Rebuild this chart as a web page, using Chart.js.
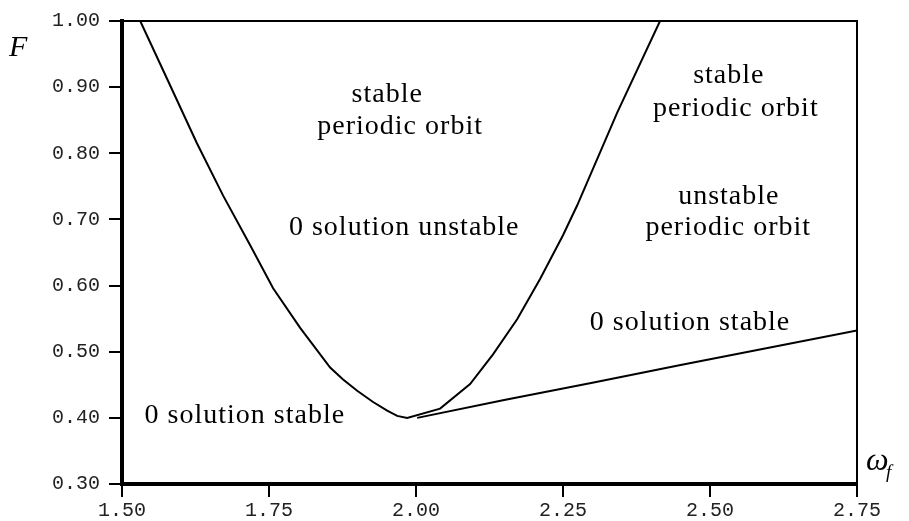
<!DOCTYPE html>
<html>
<head>
<meta charset="utf-8">
<script src="https://cdn.jsdelivr.net/npm/chart.js@4.4.0/dist/chart.umd.min.js"></script>
<style>
  body { margin: 0; background: white; }
  #wrap { width: 909px; height: 521px; }
</style>
</head>
<body>
<div id="wrap"><canvas id="chart" width="909" height="521"></canvas></div>
<script>
// stability boundary: left branch down to the minimum, then right branch back up
const curve_w = [1.531, 1.578, 1.627, 1.672, 1.718, 1.757, 1.803, 1.854, 1.876, 1.900, 1.927, 1.951, 1.968, 1.985,
  2.041, 2.092, 2.131, 2.172, 2.211, 2.250, 2.274, 2.342, 2.415];
const curve_f = [1.000, 0.910, 0.816, 0.736, 0.661, 0.596, 0.536, 0.476, 0.458, 0.441, 0.424, 0.411, 0.403, 0.400,
  0.414, 0.451, 0.496, 0.549, 0.610, 0.676, 0.721, 0.861, 1.000];

// lower boundary from the minimum out to the right edge
const line_w = [2.002, 2.150, 2.300, 2.450, 2.600, 2.750];
const line_f = [0.400, 0.427, 0.453, 0.480, 0.506, 0.532];

const x_ticks = [1.50, 1.75, 2.00, 2.25, 2.50, 2.75];
const y_ticks = [0.30, 0.40, 0.50, 0.60, 0.70, 0.80, 0.90, 1.00];

// region labels, placed in data units
const region_text = ["stable", "periodic orbit", "0 solution unstable",
  "stable", "periodic orbit", "unstable", "periodic orbit",
  "0 solution stable", "0 solution stable"];
const region_w = [1.951, 1.973, 1.980, 2.532, 2.544, 2.532, 2.531, 2.466, 1.709];
const region_f = [0.889, 0.841, 0.688, 0.918, 0.868, 0.735, 0.688, 0.544, 0.403];

function pts(xs, ys) {
	return xs.map((x, i) => ({x: x, y: ys[i]}));
}

const serif = "'Liberation Serif', 'Times New Roman', serif";
const mono = "'Liberation Mono', 'Courier New', monospace";

const labels_plugin = {
	id: "region_labels",
	afterDraw(chart) {
		const ctx = chart.ctx;
		const sx = chart.scales.x, sy = chart.scales.y;
		const area = chart.chartArea;
		ctx.save();
		ctx.fillStyle = "black";
		ctx.font = "28px " + serif;
		ctx.letterSpacing = "1px";
		ctx.textAlign = "center";
		ctx.textBaseline = "middle";
		for (let i = 0; i < region_text.length; i++) {
			ctx.fillText(region_text[i], sx.getPixelForValue(region_w[i]), sy.getPixelForValue(region_f[i]));
		}
		ctx.letterSpacing = "0px";
		// axis names
		ctx.font = "italic 30px " + serif;
		ctx.textAlign = "left";
		ctx.fillText("F", area.left - 113, area.top + 27);
		ctx.font = "italic 32px " + serif;
		ctx.fillText("\u03c9", area.right + 9, area.bottom - 22);
		ctx.font = "italic 19px " + serif;
		ctx.fillText("f", area.right + 29, area.bottom - 11);
		ctx.restore();
	}
};

const tick_grid = {display: true, drawOnChartArea: false, drawTicks: true, tickLength: 13, color: "black", lineWidth: 2};

new Chart(document.getElementById("chart"), {
	type: "scatter",
	data: {
		datasets: [
			{data: pts(curve_w, curve_f), showLine: true, borderColor: "black", borderWidth: 2, pointRadius: 0, tension: 0},
			{data: pts(line_w, line_f), showLine: true, borderColor: "black", borderWidth: 2, pointRadius: 0, tension: 0}
		]
	},
	options: {
		responsive: false,
		animation: false,
		events: [],
		layout: {padding: {left: 0, top: 17, right: 52, bottom: 0}},
		plugins: {legend: {display: false}, tooltip: {enabled: false}},
		scales: {
			x: {
				type: "linear", position: "bottom", min: 1.5, max: 2.75,
				afterBuildTicks: (s) => { s.ticks = x_ticks.map(v => ({value: v})); },
				afterFit: (s) => { s.height = 37; },
				ticks: {autoSkip: false, maxRotation: 0, padding: 2, color: "#222",
					font: {family: mono, size: 20}, callback: (v) => v.toFixed(2)},
				grid: tick_grid,
				border: {display: true, width: 4, color: "black"}
			},
			y: {
				type: "linear", position: "left", min: 0.3, max: 1.0,
				afterBuildTicks: (s) => { s.ticks = y_ticks.map(v => ({value: v})); },
				afterFit: (s) => { s.width = 122; },
				ticks: {autoSkip: false, padding: 9, color: "#222",
					font: {family: mono, size: 20}, callback: (v) => v.toFixed(2)},
				grid: tick_grid,
				border: {display: true, width: 4, color: "black"}
			},
			x2: {
				type: "linear", position: "top", min: 1.5, max: 2.75,
				afterFit: (s) => { s.height = 0; },
				ticks: {display: false}, grid: {display: false},
				border: {display: true, width: 2, color: "black"}
			},
			y2: {
				type: "linear", position: "right", min: 0.3, max: 1.0,
				afterFit: (s) => { s.width = 0; },
				ticks: {display: false}, grid: {display: false},
				border: {display: true, width: 2, color: "black"}
			}
		}
	},
	plugins: [labels_plugin]
});
</script>
</body>
</html>
